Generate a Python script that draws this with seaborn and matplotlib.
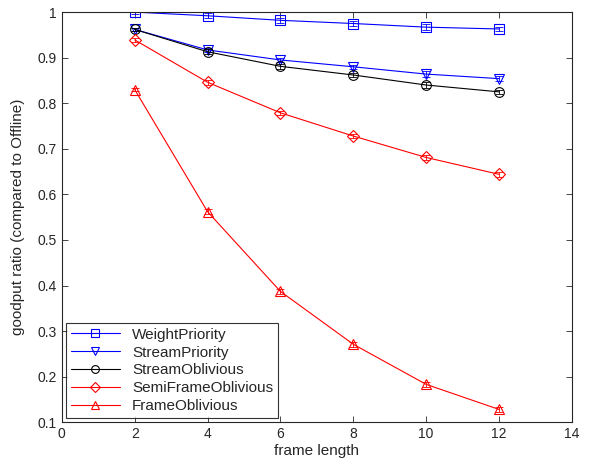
import numpy as np
import pandas as pd
import matplotlib
matplotlib.use("Agg")
import matplotlib.pyplot as plt
import seaborn as sns

frame_length = [2, 4, 6, 8, 10, 12]
weight_priority = [1.000, 0.992, 0.982, 0.975, 0.967, 0.963]
stream_priority = [0.962, 0.917, 0.895, 0.880, 0.864, 0.854]
stream_oblivious = [0.962, 0.913, 0.881, 0.862, 0.840, 0.825]
semi_frame_oblivious = [0.939, 0.846, 0.779, 0.728, 0.681, 0.644]
frame_oblivious = [0.830, 0.562, 0.387, 0.271, 0.183, 0.128]
# small confidence intervals drawn as error bars
err = [0.004, 0.005, 0.005, 0.005, 0.006, 0.005]

series = [
    ("WeightPriority", weight_priority, "#0000ff", "s", 7),
    ("StreamPriority", stream_priority, "#0000ff", "v", 7),
    ("StreamOblivious", stream_oblivious, "#000000", "o", 7),
    ("SemiFrameOblivious", semi_frame_oblivious, "#ff0000", "D", 6),
    ("FrameOblivious", frame_oblivious, "#ff0000", "^", 7),
]

sns.set_style("ticks")
plt.rcParams['font.family'] = ['Liberation Sans', 'DejaVu Sans']

fig = plt.figure(figsize=(5.89, 4.66), dpi=100)
ax = fig.add_axes([0.105, 0.094, 0.866, 0.880])

for name, vals, color, marker, ms in series:
    df = pd.DataFrame({"x": frame_length, "y": vals})
    sns.lineplot(data=df, x="x", y="y", ax=ax, color=color, marker=marker,
                 markersize=ms, markerfacecolor="none", markeredgecolor=color,
                 markeredgewidth=0.8, linewidth=0.8, label=name)
    ax.errorbar(frame_length, vals, yerr=err, fmt="none", ecolor=color,
                elinewidth=0.6, capsize=3, capthick=0.6)

ax.set_xlim(0, 14)
ax.set_ylim(0.1, 1.0)
ax.set_xticks(np.arange(0, 15, 2))
ax.set_yticks(np.arange(0.1, 1.01, 0.1))
ax.set_yticklabels(["0.1", "0.2", "0.3", "0.4", "0.5", "0.6", "0.7", "0.8", "0.9", "1"])
ax.set_xlabel("frame length", fontsize=11, labelpad=2)
ax.set_ylabel("goodput ratio (compared to Offline)", fontsize=11, labelpad=9)
ax.tick_params(direction="in", top=True, right=True, labelsize=10, length=4, width=0.6)
for s in ax.spines.values():
    s.set_linewidth(0.8)
    s.set_visible(True)

leg = ax.legend(loc="lower left", fontsize=11, frameon=True, fancybox=False,
                edgecolor="black", borderaxespad=0.3, handlelength=3.2,
                labelspacing=0.25, borderpad=0.3, markerscale=0.8)
leg.get_frame().set_linewidth(0.8)

fig.savefig("out.png", dpi=100)
